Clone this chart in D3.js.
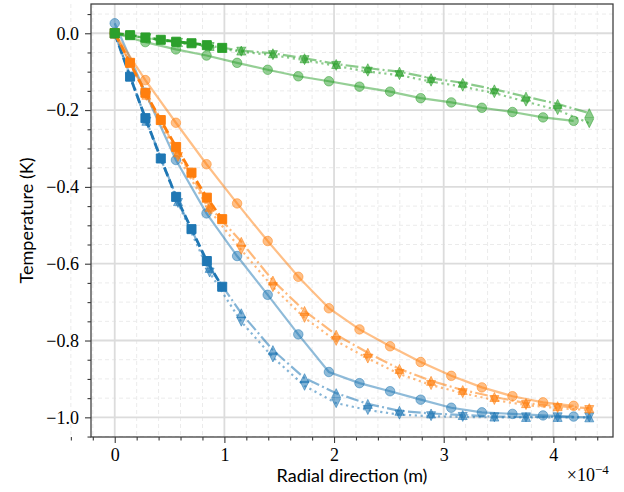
<!DOCTYPE html>
<html>
<head>
<meta charset="utf-8">
<script src="https://cdn.jsdelivr.net/npm/d3@7"></script>
<style>
  body { margin: 0; background: #fff; }
  svg { display: block; }
  .serif { font-family: "Liberation Serif", "DejaVu Serif", serif; }
  .sans { font-family: Lato, "DejaVu Sans", sans-serif; }
</style>
</head>
<body>
<svg id="chart" width="624" height="492"></svg>
<script>
// Radial positions, in units of 1e-4 m
const xCircle   = [0, 0.279, 0.558, 0.837, 1.116, 1.395, 1.674, 1.953, 2.232, 2.511, 2.79, 3.069, 3.348, 3.627, 3.906, 4.185];
const xTriangle = [0, 0.2885, 0.577, 0.8655, 1.154, 1.4425, 1.731, 2.0195, 2.308, 2.5965, 2.885, 3.1735, 3.462, 3.7505, 4.039, 4.3275];
const xSquare   = [0, 0.14, 0.28, 0.42, 0.56, 0.70, 0.84, 0.98];

// Temperature (K): solid line with circles
const blueCircle   = [0.026, -0.155, -0.330, -0.469, -0.580, -0.681, -0.784, -0.882, -0.911, -0.932, -0.954, -0.975, -0.987, -0.991, -0.995, -0.998];
const orangeCircle = [0, -0.122, -0.233, -0.341, -0.443, -0.541, -0.634, -0.716, -0.771, -0.815, -0.856, -0.892, -0.922, -0.945, -0.961, -0.970];
const greenCircle  = [0, -0.023, -0.042, -0.058, -0.077, -0.095, -0.112, -0.125, -0.139, -0.152, -0.169, -0.180, -0.194, -0.205, -0.219, -0.228];

// Temperature (K): dash-dot line with upward triangles
const blueTriUp   = [0, -0.228, -0.437, -0.611, -0.729, -0.825, -0.898, -0.937, -0.965, -0.983, -0.990, -0.994, -0.998, -0.999, -0.999, -1.0];
const orangeTriUp = [0, -0.160, -0.310, -0.452, -0.543, -0.644, -0.723, -0.785, -0.832, -0.874, -0.905, -0.929, -0.947, -0.963, -0.971, -0.976];
const greenTriUp  = [0, -0.012, -0.023, -0.033, -0.045, -0.052, -0.065, -0.080, -0.091, -0.100, -0.117, -0.129, -0.146, -0.165, -0.184, -0.208];

// Temperature (K): dotted line with downward triangles
const blueTriDown   = [0, -0.230, -0.442, -0.623, -0.751, -0.844, -0.918, -0.963, -0.981, -0.993, -0.997, -0.999, -1.0, -1.0, -1.0, -1.0];
const orangeTriDown = [0, -0.163, -0.322, -0.461, -0.564, -0.661, -0.741, -0.801, -0.847, -0.887, -0.916, -0.937, -0.955, -0.968, -0.976, -0.981];
const greenTriDown  = [0, -0.013, -0.025, -0.036, -0.048, -0.057, -0.070, -0.085, -0.100, -0.109, -0.126, -0.139, -0.156, -0.178, -0.200, -0.234];

// Temperature (K): dashed line with squares (inner region)
const blueSquare   = [0, -0.113, -0.221, -0.326, -0.426, -0.510, -0.593, -0.660];
const orangeSquare = [0, -0.077, -0.155, -0.226, -0.296, -0.363, -0.428, -0.484];
const greenSquare  = [0, -0.005, -0.011, -0.017, -0.022, -0.026, -0.031, -0.038];

// Axis ticks
const xTicks = [0, 1, 2, 3, 4];
const yTicks = [-1.0, -0.8, -0.6, -0.4, -0.2, 0.0];
const xMinorTicks = d3.range(-2, 23).map(i => i * 0.2).filter(v => Math.abs(v - Math.round(v)) > 1e-6);
const yMinorTicks = d3.range(-21, 2).map(i => i * 0.05).filter(v => Math.abs(v * 5 - Math.round(v * 5)) > 1e-6);

const palette = { blue: "#1f77b4", orange: "#ff7f0e", green: "#2ca02c" };

const groups = [
  { color: palette.blue,   circle: blueCircle,   up: blueTriUp,   down: blueTriDown,   square: blueSquare },
  { color: palette.orange, circle: orangeCircle, up: orangeTriUp, down: orangeTriDown, square: orangeSquare },
  { color: palette.green,  circle: greenCircle,  up: greenTriUp,  down: greenTriDown,  square: greenSquare }
];

const svg = d3.select("#chart");
const plotLeft = 91, plotRight = 613, plotTop = 4, plotBottom = 437;

const x = d3.scaleLinear().domain([-0.2164, 4.5439]).range([plotLeft, plotRight]);
const y = d3.scaleLinear().domain([-1.0512, 0.0762]).range([plotBottom, plotTop]);

// Grid: minor dashed, major solid
const grid = svg.append("g");
grid.selectAll(".gxm").data(xMinorTicks).join("line")
  .attr("x1", d => x(d)).attr("x2", d => x(d)).attr("y1", plotTop).attr("y2", plotBottom)
  .attr("stroke", "#ebebeb").attr("stroke-width", 1).attr("stroke-dasharray", "4,3");
grid.selectAll(".gym").data(yMinorTicks).join("line")
  .attr("y1", d => y(d)).attr("y2", d => y(d)).attr("x1", plotLeft).attr("x2", plotRight)
  .attr("stroke", "#ebebeb").attr("stroke-width", 1).attr("stroke-dasharray", "4,3");
grid.selectAll(".gx").data(xTicks).join("line")
  .attr("x1", d => x(d)).attr("x2", d => x(d)).attr("y1", plotTop).attr("y2", plotBottom)
  .attr("stroke", "#dcdcdc").attr("stroke-width", 1.8);
grid.selectAll(".gy").data(yTicks).join("line")
  .attr("y1", d => y(d)).attr("y2", d => y(d)).attr("x1", plotLeft).attr("x2", plotRight)
  .attr("stroke", "#dcdcdc").attr("stroke-width", 1.8);

// Marker shapes (width = height = ms)
function markerPath(kind, ms) {
  const h = ms / 2;
  if (kind === "circle") {
    return `M${h},0A${h},${h} 0 1,1 ${-h},0A${h},${h} 0 1,1 ${h},0Z`;
  }
  if (kind === "square") return `M${-h},${-h}H${h}V${h}H${-h}Z`;
  if (kind === "up") return `M0,${-h}L${-h},${h}L${h},${h}Z`;
  if (kind === "down") return `M0,${h}L${-h},${-h}L${h},${-h}Z`;
}

svg.append("defs").append("clipPath").attr("id", "plotArea")
  .append("rect").attr("x", plotLeft).attr("y", plotTop)
  .attr("width", plotRight - plotLeft).attr("height", plotBottom - plotTop);

const plot = svg.append("g").attr("clip-path", "url(#plotArea)");
const line = d3.line().x(d => x(d[0])).y(d => y(d[1]));

function drawSeries(xs, ys, opts) {
  const pts = xs.map((v, i) => [v, ys[i]]);
  const g = plot.append("g");
  g.append("path").attr("d", line(pts))
    .attr("fill", "none").attr("stroke", opts.color)
    .attr("stroke-width", opts.lw).attr("stroke-opacity", opts.alpha)
    .attr("stroke-dasharray", opts.dash || null);
  g.selectAll("path.m").data(pts).join("path").attr("class", "m")
    .attr("d", markerPath(opts.marker, opts.ms))
    .attr("transform", d => `translate(${x(d[0])},${y(d[1])})`)
    .attr("fill", opts.color).attr("fill-opacity", opts.alpha)
    .attr("stroke", opts.color).attr("stroke-opacity", opts.alpha)
    .attr("stroke-width", 1);
}

groups.forEach(gr => {
  drawSeries(xCircle, gr.circle, { color: gr.color, lw: 2.2, alpha: 0.5, marker: "circle", ms: 9.5 });
  drawSeries(xTriangle, gr.up, { color: gr.color, lw: 2.2, alpha: 0.55, marker: "up", ms: 9, dash: "12.8,3.2,2,3.2" });
  drawSeries(xTriangle, gr.down, { color: gr.color, lw: 2.2, alpha: 0.55, marker: "down", ms: 9, dash: "2.2,3.6" });
  drawSeries(xSquare, gr.square, { color: gr.color, lw: 2.8, alpha: 1, marker: "square", ms: 9, dash: "9,4" });
});

// Axes frame
svg.append("rect").attr("x", plotLeft).attr("y", plotTop)
  .attr("width", plotRight - plotLeft).attr("height", plotBottom - plotTop)
  .attr("fill", "none").attr("stroke", "#3a3a3a").attr("stroke-width", 1.25);

// Bottom axis
const xAxis = svg.append("g").attr("transform", `translate(0,${plotBottom})`)
  .call(d3.axisBottom(x).tickValues(xTicks).tickSize(6).tickPadding(5.4).tickFormat(d3.format("d")));
const xAxisMinor = svg.append("g").attr("transform", `translate(0,${plotBottom})`)
  .call(d3.axisBottom(x).tickValues(xMinorTicks).tickSize(3.5).tickFormat(""));

// Left axis
const yAxis = svg.append("g").attr("transform", `translate(${plotLeft},0)`)
  .call(d3.axisLeft(y).tickValues(yTicks).tickSize(6).tickPadding(6).tickFormat(d3.format(".1f")));
const yAxisMinor = svg.append("g").attr("transform", `translate(${plotLeft},0)`)
  .call(d3.axisLeft(y).tickValues(yMinorTicks).tickSize(3.5).tickFormat(""));

[xAxis, xAxisMinor, yAxis, yAxisMinor].forEach(a => {
  a.attr("font-family", null).attr("font-size", null);
  a.select(".domain").remove();
  a.selectAll(".tick line").attr("stroke", "#3a3a3a").attr("stroke-width", 1.1);
  a.selectAll(".tick text").attr("class", "serif").attr("fill", "#000").attr("font-size", 18);
});

// Axis titles
svg.append("text").attr("class", "sans").attr("x", (plotLeft + plotRight) / 2).attr("y", 482)
  .attr("text-anchor", "middle").attr("font-size", 18)
  .text("Radial direction (m)");
svg.append("text").attr("class", "sans")
  .attr("transform", `translate(33,${(plotTop + plotBottom) / 2}) rotate(-90)`)
  .attr("text-anchor", "middle").attr("font-size", 18)
  .text("Temperature (K)");

// Scale factor for the x axis
svg.append("text").attr("class", "serif").attr("x", 595).attr("y", 481).attr("text-anchor", "end")
  .attr("font-size", 18).text("×10");
svg.append("text").attr("class", "serif").attr("x", 595).attr("y", 474).attr("text-anchor", "start")
  .attr("font-size", 13).text("−4");
</script>
</body>
</html>
